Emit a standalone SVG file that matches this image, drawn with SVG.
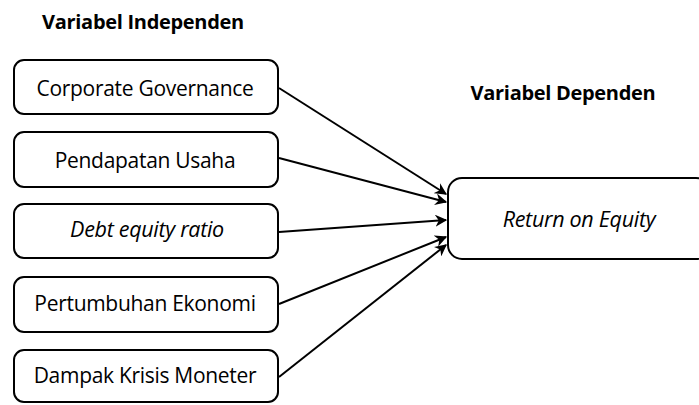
<svg xmlns="http://www.w3.org/2000/svg" width="699" height="405" viewBox="0 0 699 405">
<defs>
<style>
.box{fill:#fff;stroke:#000;stroke-width:2}
.t{font-family:"Open Sans","Liberation Sans",sans-serif;font-size:21px;fill:#000;text-anchor:middle;letter-spacing:-0.3px}
.h{font-family:"Open Sans","Liberation Sans",sans-serif;font-size:20px;font-weight:bold;fill:#000;text-anchor:middle;letter-spacing:-0.3px}
.i{font-style:italic;font-size:21.5px}
.c{stroke:#000;stroke-width:2;fill:none;marker-end:url(#ah)}
</style>
<marker id="ah" viewBox="0 0 10 10" refX="9" refY="5" markerWidth="6" markerHeight="6" orient="auto" markerUnits="strokeWidth">
<path d="M0,0 L10,5 L0,10 L3,5 Z" fill="#000"/>
</marker>
</defs>
<rect width="699" height="405" fill="#fff"/>
<text class="h" x="143" y="29">Variabel Independen</text>
<text class="h" x="563" y="100">Variabel Dependen</text>
<g id="n1"><rect class="box" x="14" y="60" width="264" height="54" rx="10"/><text class="t" x="145" y="96">Corporate Governance</text></g>
<g id="n2"><rect class="box" x="14" y="132" width="264" height="55" rx="10"/><text class="t" x="145" y="168">Pendapatan Usaha</text></g>
<g id="n3"><rect class="box" x="14" y="204" width="264" height="54" rx="10"/><text class="t i" x="147" y="237">Debt equity ratio</text></g>
<g id="n4"><rect class="box" x="14" y="277" width="264" height="55" rx="10"/><text class="t" x="145" y="311">Pertumbuhan Ekonomi</text></g>
<g id="n5"><rect class="box" x="14" y="350" width="264" height="52" rx="10"/><text class="t" x="145" y="383">Dampak Krisis Moneter</text></g>
<g id="n6"><rect class="box" x="448" y="178" width="262" height="81" rx="14"/><text class="t i" x="579" y="227">Return on Equity</text></g>
<g id="connectors">
<line class="c" x1="279" y1="88" x2="446" y2="194"/>
<line class="c" x1="279" y1="158" x2="446" y2="202"/>
<line class="c" x1="279" y1="232" x2="446" y2="220"/>
<line class="c" x1="279" y1="304" x2="446" y2="237"/>
<line class="c" x1="279" y1="377" x2="446" y2="245"/>
</g>
</svg>
